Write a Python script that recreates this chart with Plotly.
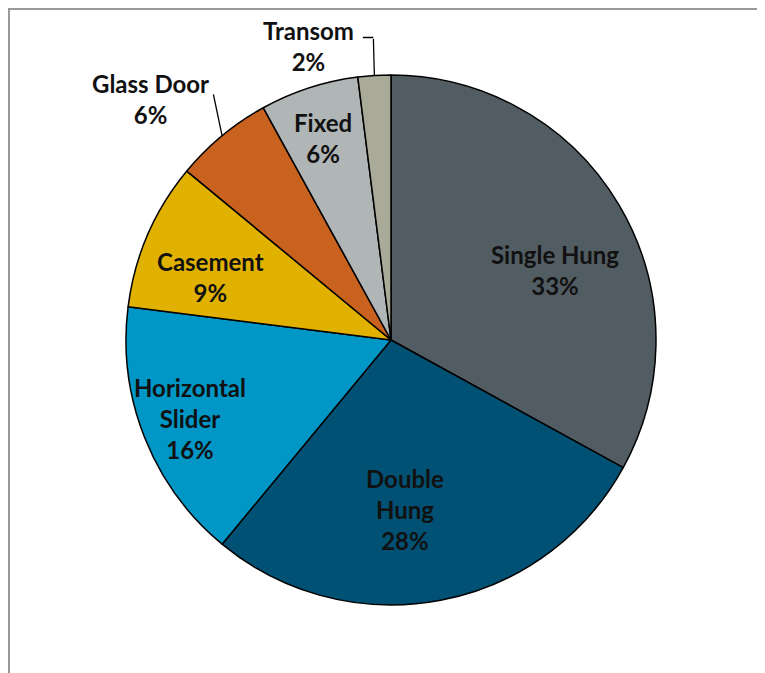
import math
import plotly.graph_objects as go

labels = ["Single Hung", "Double Hung", "Horizontal Slider", "Casement", "Glass Door", "Fixed", "Transom"]
display_names = ["Single Hung", "Double<br>Hung", "Horizontal<br>Slider", "Casement", "Glass Door", "Fixed", "Transom"]
values = [33, 28, 16, 9, 6, 6, 2]
colors = ["#525D63", "#005174", "#0097C7", "#E1B100", "#C9621E", "#B0B5B6", "#A9AB98"]

# label placement: (distance as fraction of radius, angular nudge in degrees from slice mid-angle)
label_place = {
    "Single Hung": (0.672, 7.5),
    "Double Hung": (0.64, 6.1),
    "Horizontal Slider": (0.814, 0.4),
    "Casement": (0.72, -4.1),
    "Glass Door": (1.286, -5.4),
    "Fixed": (0.804, -0.6),
    "Transom": (1.151, -12.0),
}
# leader-line vertices (pixel offsets from the slice's rim point) for the outside labels
leaders = {
    "Glass Door": [(-9, -43)],
    "Transom": [(-1, -38), (-13, -38)],
}

total = sum(values)
texts = [f"{n}<br>{round(v / total * 100)}%" for n, v in zip(display_names, values)]

W, H = 765, 673
cx, cy, r = 383, 332, 265
font = dict(family="Lato", size=24, color="#111111", weight="bold")

fig = go.Figure(go.Pie(
    labels=labels,
    values=values,
    textinfo="none",
    sort=False,
    direction="clockwise",
    rotation=0,
    marker=dict(colors=colors, line=dict(color="#000000", width=1.5)),
    showlegend=False,
    domain=dict(x=[(cx - r) / W, (cx + r) / W], y=[1 - (cy + r) / H, 1 - (cy - r) / H]),
    hoverinfo="label+percent",
))


def to_paper(px, py):
    return px / W, 1 - py / H


annotations = []
cum = 0
for name, v, t in zip(labels, values, texts):
    mid_deg = (cum + v / 2) / total * 360
    cum += v
    frac, nudge = label_place[name]
    a = math.radians(mid_deg + nudge)
    tx, ty = to_paper(cx + frac * r * math.sin(a), cy - frac * r * math.cos(a))
    annotations.append(dict(x=tx, y=ty, xref="paper", yref="paper", text=t,
                            showarrow=False, font=font, align="center",
                            xanchor="center", yanchor="middle"))
    if name in leaders:
        m = math.radians(mid_deg)
        sx, sy = cx + r * math.sin(m), cy - r * math.cos(m)
        prev = (0, 0)
        for dx, dy in leaders[name]:
            hx, hy = to_paper(sx + prev[0], sy + prev[1])
            annotations.append(dict(x=hx, y=hy, xref="paper", yref="paper", text="",
                                    showarrow=True, ax=dx - prev[0], ay=dy - prev[1],
                                    arrowhead=0, arrowwidth=1.3, arrowcolor="#000000",
                                    standoff=0, startstandoff=0))
            prev = (dx, dy)

fig.update_layout(
    width=W, height=H,
    margin=dict(l=0, r=0, t=0, b=0),
    paper_bgcolor="white",
    plot_bgcolor="white",
    annotations=annotations,
    shapes=[dict(type="rect", xref="paper", yref="paper",
                 x0=1 / W, x1=1.02, y0=-0.02, y1=1 - 1 / H,
                 line=dict(color="#999999", width=2), fillcolor="rgba(0,0,0,0)", layer="below")],
)

fig.write_html("out.html")
